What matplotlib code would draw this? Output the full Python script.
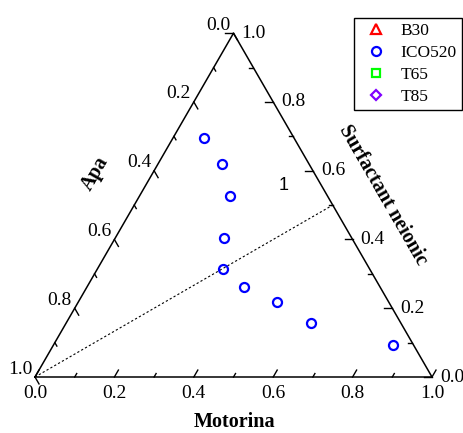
import numpy as np
import matplotlib.pyplot as plt

# ternary data (Motorina, Surfactant neionic); Apa = 1 - M - S
ico520_motorina = [0.078, 0.161, 0.227, 0.273, 0.317, 0.394, 0.502, 0.617, 0.856]
ico520_surfactant = [0.694, 0.619, 0.526, 0.404, 0.315, 0.263, 0.217, 0.157, 0.093]
b30_motorina, b30_surfactant = [], []
t65_motorina, t65_surfactant = [], []
t85_motorina, t85_surfactant = [], []

tick_vals = np.round(np.arange(0, 1.01, 0.1), 1)
major_vals = [0.0, 0.2, 0.4, 0.6, 0.8, 1.0]

# dotted line from Apa corner to the right edge
line_m = [0.0, 0.5]
line_s = [0.0, 0.5]

H = np.sqrt(3) / 2


def tern(m, s):
    m = np.asarray(m, dtype=float)
    s = np.asarray(s, dtype=float)
    return m + s / 2, s * H


plt.rcParams['font.family'] = ['Liberation Serif', 'DejaVu Serif']

fig = plt.figure(figsize=(4.63, 4.33), dpi=100)
ax = fig.add_axes([0, 0, 1, 1])
P = 1 / 397.0  # data units per pixel
ax.set_xlim(-35 * P, 428 * P)
ax.set_ylim(-56 * P, 377 * P)
ax.set_aspect('equal')
ax.axis('off')

# triangle
tx, ty = tern([0, 1, 0, 0], [0, 0, 1, 0])
ax.plot(tx, ty, color='black', lw=1.1, solid_joinstyle='miter', zorder=2)

# ticks
for v in tick_vals:
    L = (8 if v in major_vals else 4) * P
    # bottom (Motorina)
    x0, y0 = tern(v, 0)
    ax.plot([x0, x0 + L * 0.5], [y0, y0 + L * H], color='black', lw=1)
    # right (Surfactant)
    x0, y0 = tern(1 - v, v)
    ax.plot([x0, x0 - L], [y0, y0], color='black', lw=1)
    # left (Apa)
    x0, y0 = tern(0, 1 - v)
    ax.plot([x0, x0 + L * 0.5], [y0, y0 - L * H], color='black', lw=1)

for v in major_vals:
    x0, y0 = tern(v, 0)
    ax.text(x0, y0 - 16 * P, f'{v:.1f}', ha='center', va='center', fontsize=14)
    x0, y0 = tern(1 - v, v)
    ax.text(x0 + 8 * P, y0, f'{v:.1f}', ha='left', va='center', fontsize=14)
    x0, y0 = tern(0, 1 - v)
    ax.text(x0 - 15 * P, y0 + 8 * P, f'{v:.1f}', ha='center', va='center', fontsize=14)

# axis titles
ax.text(200 * P, -45 * P, 'Motorina', ha='center', va='center', fontsize=14.5, fontweight='bold')
ax.text(60 * P, 204 * P, 'Apa', ha='center', va='center', fontsize=14.5, fontweight='bold', rotation=60)
ax.text(348 * P, 182 * P, 'Surfactant neionic', ha='center', va='center', fontsize=14.5,
        fontweight='bold', rotation=-60)

lx, ly = tern(line_m, line_s)
ax.plot(lx, ly, color='black', lw=0.8, linestyle=(0, (2, 2)))

ax.text(249 * P, 191 * P, '1', ha='center', va='center', fontsize=13, family='Liberation Sans')

x, y = tern(b30_motorina, b30_surfactant)
ax.plot(x, y, '^', ms=6.5, mfc='none', mec='red', mew=1.6, label='B30')
x, y = tern(ico520_motorina, ico520_surfactant)
ax.plot(x, y, 'o', ms=6.5, mfc='none', mec='blue', mew=1.6, label='ICO520')
x, y = tern(t65_motorina, t65_surfactant)
ax.plot(x, y, 's', ms=5.5, mfc='none', mec='#00ff00', mew=1.6, label='T65')
x, y = tern(t85_motorina, t85_surfactant)
ax.plot(x, y, 'D', ms=5.5, mfc='none', mec='#8000ff', mew=1.6, label='T85')

leg = ax.legend(loc='upper right', bbox_to_anchor=(462 / 463, 1 - 18 / 433), borderaxespad=0,
                fontsize=12.5, fancybox=False, edgecolor='black', framealpha=1,
                labelspacing=0.33, handletextpad=0.4, borderpad=0.3, handlelength=2.0)
leg.get_frame().set_linewidth(1.0)

fig.savefig('out.png', dpi=100)
